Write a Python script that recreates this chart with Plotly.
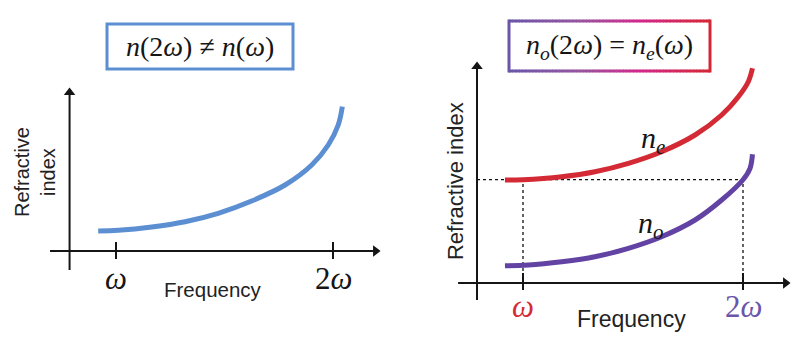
import plotly.graph_objects as go

# Frequency in units of the fundamental (omega = 1, second harmonic = 2)
tick_freqs = [1, 2]
tick_text_left = ["<i>ω</i>", "2<i>ω</i>"]
tick_text_right = ["<i>ω</i>", "2<i>ω</i>"]

# Normal dispersion, single index n(omega) (arbitrary units)
freq_left = [0.918, 1.011, 1.165, 1.318, 1.471, 1.625, 1.779, 1.902, 1.978, 2.024, 2.043]
n_left = [0.200, 0.207, 0.240, 0.293, 0.377, 0.500, 0.660, 0.860, 1.060, 1.260, 1.443]

# Birefringent crystal: extraordinary and ordinary indices (arbitrary units)
freq_e = [0.918, 1.000, 1.176, 1.327, 1.479, 1.630, 1.782, 1.903, 1.979, 2.024, 2.043]
n_e = [1.030, 1.033, 1.063, 1.113, 1.197, 1.313, 1.480, 1.680, 1.863, 2.013, 2.147]
freq_o = [0.918, 1.024, 1.176, 1.327, 1.479, 1.630, 1.782, 1.903, 2.000, 2.032, 2.043]
n_o = [0.173, 0.180, 0.213, 0.263, 0.347, 0.463, 0.630, 0.830, 1.033, 1.147, 1.287]

# Phase-matching level n_e(omega) = n_o(2 omega)
n_match = n_e[freq_e.index(1.0)]

BLUE = "#5b8fd2"
RED = "#d42a35"
PURPLE = "#6243a3"
AXIS = "#151515"
TEXT = "#222222"
SANS = "Liberation Sans, Arial, sans-serif"
SERIF = "Liberation Serif, Times New Roman, serif"

fig = go.Figure()

fig.add_trace(go.Scatter(x=freq_left, y=n_left, mode="lines", xaxis="x", yaxis="y",
                         line=dict(color=BLUE, width=5, shape="spline", smoothing=1.0),
                         hoverinfo="skip", showlegend=False))
fig.add_trace(go.Scatter(x=freq_e, y=n_e, mode="lines", xaxis="x2", yaxis="y2",
                         line=dict(color=RED, width=5, shape="spline", smoothing=1.0),
                         hoverinfo="skip", showlegend=False))
fig.add_trace(go.Scatter(x=freq_o, y=n_o, mode="lines", xaxis="x2", yaxis="y2",
                         line=dict(color=PURPLE, width=5, shape="spline", smoothing=1.0),
                         hoverinfo="skip", showlegend=False))

shapes = []
annotations = []


def label(xr, yr, x, y, text, family, size, color, angle=0):
    annotations.append(dict(xref=xr, yref=yr, x=x, y=y, text=text, showarrow=False,
                            xanchor="center", yanchor="middle", textangle=angle,
                            font=dict(family=family, size=size, color=color)))


def axis_arrows(xa, ya, x_lo, x_hi, y0, y_lo, y_hi, ux, uy):
    """Crossed axes with triangular heads; ux/uy = data units per pixel."""
    shapes.append(dict(type="line", xref=xa, yref=ya, x0=x_lo, x1=x_hi - 6 * ux, y0=0, y1=0,
                       line=dict(color=AXIS, width=2), layer="above"))
    shapes.append(dict(type="line", xref=xa, yref=ya, x0=y0, x1=y0, y0=y_lo, y1=y_hi - 6 * uy,
                       line=dict(color=AXIS, width=2), layer="above"))
    fig.add_trace(go.Scatter(x=[x_hi - 4.5 * ux], y=[0], mode="markers", xaxis=xa, yaxis=ya,
                             marker=dict(symbol="triangle-right", size=10, color=AXIS, line=dict(width=0)),
                             hoverinfo="skip", showlegend=False))
    fig.add_trace(go.Scatter(x=[y0], y=[y_hi - 4.5 * uy], mode="markers", xaxis=xa, yaxis=ya,
                             marker=dict(symbol="triangle-up", size=10, color=AXIS, line=dict(width=0)),
                             hoverinfo="skip", showlegend=False))


def tick(xr, yr, x, lo, hi):
    shapes.append(dict(type="line", xref=xr, yref=yr, x0=x, x1=x, y0=lo, y1=hi,
                       line=dict(color=AXIS, width=2), layer="above"))


# ---- left panel axes ----
axis_arrows("x", "y", 0.696, 2.217, 0.786, -0.19, 1.63, 1 / 217, 1 / 100)
for f in tick_freqs:
    tick("x", "y", f, -0.08, 0.09)
for f, t in zip(tick_freqs, tick_text_left):
    label("x", "y", f, -0.27, t, SERIF, 31, AXIS)
label("x", "y", 1.447, -0.38, "Frequency", SANS, 20.5, TEXT)
label("x", "y", 0.627, 0.79, "Refractive<br>index", SANS, 20, TEXT, -90)

# ---- right panel axes ----
axis_arrows("x2", "y2", 0.705, 2.214, 0.791, -0.17, 2.21, 1 / 220, 1 / 100)
for f in tick_freqs:
    tick("x2", "y2", f, -0.07, 0.10)
for f, t, c in zip(tick_freqs, tick_text_right, [RED, "#6a55ab"]):
    label("x2", "y2", f, -0.23, t, SERIF, 31, c)
label("x2", "y2", 1.495, -0.36, "Frequency", SANS, 23, TEXT)
label("x2", "y2", 0.691, 1.02, "Refractive index", SANS, 22, TEXT, -90)

# phase-matching guides
dot = dict(color="#111111", width=1.3, dash="dot")
shapes.append(dict(type="line", xref="x2", yref="y2", x0=0.791, x1=2.0, y0=n_match, y1=n_match,
                   line=dot, layer="below"))
for f in tick_freqs:
    shapes.append(dict(type="line", xref="x2", yref="y2", x0=f, x1=f, y0=0, y1=n_match,
                       line=dot, layer="below"))

# curve labels
label("x2", "y2", 1.59, 1.43, "<i>n</i><sub><i>e</i></sub>", SERIF, 30, AXIS)
label("x2", "y2", 1.58, 0.58, "<i>n</i><sub><i>o</i></sub>", SERIF, 30, AXIS)

# ---- title boxes ----
W, H = 800.0, 347.0


def px(x):
    return x / W


def py(y):
    return 1 - y / H


shapes.append(dict(type="rect", xref="paper", yref="paper",
                   x0=px(107), x1=px(293), y0=py(69), y1=py(24),
                   line=dict(color=BLUE, width=3), fillcolor="white"))
label("paper", "paper", px(200), py(46),
      "<i>n</i>(2<i>ω</i>) ≠ <i>n</i>(<i>ω</i>)", SERIF, 28, AXIS)

# gradient border: purple -> magenta -> red
stops = [(0.0, (106, 85, 168)), (0.35, (150, 85, 160)), (0.65, (210, 40, 140)), (1.0, (212, 38, 52))]


def grad(t):
    for (t0, c0), (t1, c1) in zip(stops[:-1], stops[1:]):
        if t <= t1:
            u = (t - t0) / (t1 - t0)
            return "rgb(%d,%d,%d)" % tuple(round(a + (b - a) * u) for a, b in zip(c0, c1))
    return "rgb(%d,%d,%d)" % stops[-1][1]


bx0, bx1, by0, by1 = 509, 710, 21, 71
nseg = 60
for i in range(nseg):
    xa = bx0 + (bx1 - bx0) * i / nseg
    xb = bx0 + (bx1 - bx0) * (i + 1) / nseg + 0.6
    col = grad((i + 0.5) / nseg)
    for yy in (by0, by1):
        shapes.append(dict(type="line", xref="paper", yref="paper",
                           x0=px(xa), x1=px(min(xb, bx1)), y0=py(yy), y1=py(yy),
                           line=dict(color=col, width=3)))
shapes.append(dict(type="line", xref="paper", yref="paper", x0=px(bx0), x1=px(bx0),
                   y0=py(by0 - 1.5), y1=py(by1 + 1.5), line=dict(color=grad(0), width=3)))
shapes.append(dict(type="line", xref="paper", yref="paper", x0=px(bx1), x1=px(bx1),
                   y0=py(by0 - 1.5), y1=py(by1 + 1.5), line=dict(color=grad(1), width=3)))
label("paper", "paper", px(609), py(46),
      "<i>n</i><sub><i>o</i></sub>(2<i>ω</i>) = <i>n</i><sub><i>e</i></sub>(<i>ω</i>)", SERIF, 28, AXIS)

hidden = dict(visible=False, showgrid=False, zeroline=False, fixedrange=True)
fig.update_layout(
    width=800, height=347,
    margin=dict(l=0, r=0, t=0, b=0),
    paper_bgcolor="white", plot_bgcolor="white",
    xaxis=dict(domain=[0, 0.5], range=[1 - 116 / 217, 1 + 284 / 217], **hidden),
    yaxis=dict(domain=[0, 1], range=[(251 - 347) / 100, 251 / 100], **hidden),
    xaxis2=dict(domain=[0.5, 1], range=[1 - 123 / 220, 1 + 277 / 220], anchor="y2", **hidden),
    yaxis2=dict(domain=[0, 1], range=[(283 - 347) / 100, 283 / 100], anchor="x2", **hidden),
    shapes=shapes,
    annotations=annotations,
    showlegend=False,
)

fig.write_html("out.html")
